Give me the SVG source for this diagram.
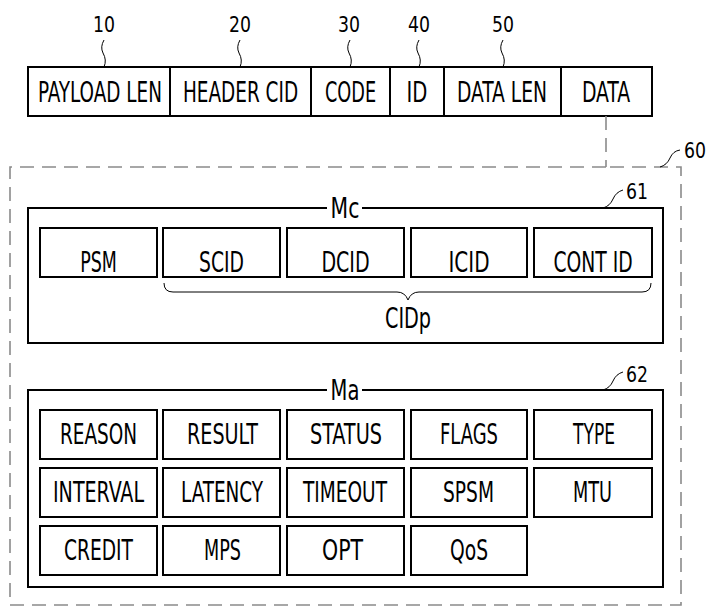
<svg xmlns="http://www.w3.org/2000/svg" width="709" height="607" viewBox="0 0 709 607">
<style>
text{font-family:"DejaVu Sans Condensed","DejaVu Sans","Liberation Sans",sans-serif;fill:#000;text-anchor:middle;}
.t{font-size:28px;}
.n{font-size:22px;}
.box{fill:#fff;stroke:#000;stroke-width:2;}
.frame{fill:none;stroke:#000;stroke-width:2;}
.dash{fill:none;stroke:#8a8a8a;stroke-width:1.6;stroke-dasharray:14 8;}
.lead{fill:none;stroke:#000;stroke-width:1;}
</style>
<rect width="709" height="607" fill="#fff"/>

<g id="packet">
  <g id="f10"><rect class="box" x="28" y="67" width="142" height="49"/><text class="t" transform="translate(100,102) scale(.72,1)" textLength="172" lengthAdjust="spacingAndGlyphs">PAYLOAD LEN</text></g>
  <g id="f20"><rect class="box" x="170" y="67" width="141" height="49"/><text class="t" transform="translate(240.5,102) scale(.72,1)" textLength="160" lengthAdjust="spacingAndGlyphs">HEADER CID</text></g>
  <g id="f30"><rect class="box" x="311" y="67" width="79" height="49"/><text class="t" transform="translate(350.5,102) scale(.72,1)" textLength="71" lengthAdjust="spacingAndGlyphs">CODE</text></g>
  <g id="f40"><rect class="box" x="390" y="67" width="54" height="49"/><text class="t" transform="translate(417,102) scale(.72,1)" textLength="29" lengthAdjust="spacingAndGlyphs">ID</text></g>
  <g id="f50"><rect class="box" x="444" y="67" width="117" height="49"/><text class="t" transform="translate(502,102) scale(.72,1)" textLength="125" lengthAdjust="spacingAndGlyphs">DATA LEN</text></g>
  <g id="fdata"><rect class="box" x="561" y="67" width="91" height="49"/><text class="t" transform="translate(606,102) scale(.72,1)" textLength="67" lengthAdjust="spacingAndGlyphs">DATA</text></g>
</g>

<g id="refs">
  <text class="n" x="104" y="32" textLength="22" lengthAdjust="spacingAndGlyphs">10</text>
  <text class="n" x="240" y="32" textLength="22" lengthAdjust="spacingAndGlyphs">20</text>
  <text class="n" x="349" y="32" textLength="22" lengthAdjust="spacingAndGlyphs">30</text>
  <text class="n" x="419" y="32" textLength="22" lengthAdjust="spacingAndGlyphs">40</text>
  <text class="n" x="503" y="32" textLength="22" lengthAdjust="spacingAndGlyphs">50</text>
  <text class="n" x="695" y="158" textLength="22" lengthAdjust="spacingAndGlyphs">60</text>
  <text class="n" x="637" y="199" textLength="22" lengthAdjust="spacingAndGlyphs">61</text>
  <text class="n" x="637" y="382" textLength="22" lengthAdjust="spacingAndGlyphs">62</text>
</g>

<g id="n60">
  <path class="dash" d="M606,167 H10 V605 H681 V167 H606"/>
</g>

<g id="n61">
  <path class="frame" d="M327,208 H28 V343 H663 V208 H362"/>
  <text class="t" transform="translate(345,218) scale(.72,1)" textLength="40" lengthAdjust="spacingAndGlyphs">Mc</text>
  <g id="psm"><rect class="box" x="40" y="228" width="117" height="49"/><text class="t" transform="translate(98.5,272) scale(.72,1)" textLength="51" lengthAdjust="spacingAndGlyphs">PSM</text></g>
  <g id="scid"><rect class="box" x="163" y="228" width="117" height="49"/><text class="t" transform="translate(221.5,272) scale(.72,1)" textLength="62.5" lengthAdjust="spacingAndGlyphs">SCID</text></g>
  <g id="dcid"><rect class="box" x="287" y="228" width="117" height="49"/><text class="t" transform="translate(345.5,272) scale(.72,1)" textLength="67" lengthAdjust="spacingAndGlyphs">DCID</text></g>
  <g id="icid"><rect class="box" x="411" y="228" width="116" height="49"/><text class="t" transform="translate(469,272) scale(.72,1)" textLength="57" lengthAdjust="spacingAndGlyphs">ICID</text></g>
  <g id="contid"><rect class="box" x="534" y="228" width="118" height="49"/><text class="t" transform="translate(593,272) scale(.72,1)" textLength="110" lengthAdjust="spacingAndGlyphs">CONT ID</text></g>
  <g id="cidp">
    <path class="lead" d="M164,283 Q164,292 173,292 H397 Q405,292 408,300 Q411,292 419,292 H642 Q651,292 651,283"/>
    <text class="t" transform="translate(408,328) scale(.72,1)" textLength="64" lengthAdjust="spacingAndGlyphs">CIDp</text>
  </g>
</g>

<g id="n62">
  <path class="frame" d="M327,390 H28 V587 H663 V390 H362"/>
  <text class="t" transform="translate(345,400) scale(.72,1)" textLength="40" lengthAdjust="spacingAndGlyphs">Ma</text>
  <g id="reason"><rect class="box" x="40" y="410" width="117" height="49"/><text class="t" transform="translate(98.5,444) scale(.72,1)" textLength="107" lengthAdjust="spacingAndGlyphs">REASON</text></g>
  <g id="result"><rect class="box" x="163" y="410" width="117" height="49"/><text class="t" transform="translate(222.5,444) scale(.72,1)" textLength="98.6" lengthAdjust="spacingAndGlyphs">RESULT</text></g>
  <g id="status"><rect class="box" x="287" y="410" width="117" height="49"/><text class="t" transform="translate(346,444) scale(.72,1)" textLength="100" lengthAdjust="spacingAndGlyphs">STATUS</text></g>
  <g id="flags"><rect class="box" x="411" y="410" width="116" height="49"/><text class="t" transform="translate(469,444) scale(.72,1)" textLength="80.6" lengthAdjust="spacingAndGlyphs">FLAGS</text></g>
  <g id="type"><rect class="box" x="534" y="410" width="118" height="49"/><text class="t" transform="translate(594,444) scale(.72,1)" textLength="58.3" lengthAdjust="spacingAndGlyphs">TYPE</text></g>
  <g id="interval"><rect class="box" x="40" y="468" width="117" height="49"/><text class="t" transform="translate(98.5,502) scale(.72,1)" textLength="126.4" lengthAdjust="spacingAndGlyphs">INTERVAL</text></g>
  <g id="latency"><rect class="box" x="163" y="468" width="117" height="49"/><text class="t" transform="translate(222,502) scale(.72,1)" textLength="113.9" lengthAdjust="spacingAndGlyphs">LATENCY</text></g>
  <g id="timeout"><rect class="box" x="287" y="468" width="117" height="49"/><text class="t" transform="translate(345,502) scale(.72,1)" textLength="116.7" lengthAdjust="spacingAndGlyphs">TIMEOUT</text></g>
  <g id="spsm"><rect class="box" x="411" y="468" width="116" height="49"/><text class="t" transform="translate(468.5,502) scale(.72,1)" textLength="70.8" lengthAdjust="spacingAndGlyphs">SPSM</text></g>
  <g id="mtu"><rect class="box" x="534" y="468" width="118" height="49"/><text class="t" transform="translate(592.5,502) scale(.72,1)" textLength="54.2" lengthAdjust="spacingAndGlyphs">MTU</text></g>
  <g id="credit"><rect class="box" x="40" y="526" width="117" height="49"/><text class="t" transform="translate(98.5,560) scale(.72,1)" textLength="95.8" lengthAdjust="spacingAndGlyphs">CREDIT</text></g>
  <g id="mps"><rect class="box" x="163" y="526" width="117" height="49"/><text class="t" transform="translate(222.5,560) scale(.72,1)" textLength="51.4" lengthAdjust="spacingAndGlyphs">MPS</text></g>
  <g id="opt"><rect class="box" x="287" y="526" width="117" height="49"/><text class="t" transform="translate(342.5,560) scale(.72,1)" textLength="56.9" lengthAdjust="spacingAndGlyphs">OPT</text></g>
  <g id="qos"><rect class="box" x="411" y="526" width="116" height="49"/><text class="t" transform="translate(469,560) scale(.72,1)" textLength="52.8" lengthAdjust="spacingAndGlyphs">QoS</text></g>
</g>

<g id="connectors">
  <path class="dash" d="M606,116 V167"/>
  <path class="lead" d="M104,40 Q100,47 103,53 Q107,60 104,67"/>
  <path class="lead" d="M240,40 Q236,47 239,53 Q243,60 240,67"/>
  <path class="lead" d="M350,40 Q346,47 349,53 Q353,60 350,67"/>
  <path class="lead" d="M419,40 Q415,47 418,53 Q422,60 419,67"/>
  <path class="lead" d="M503,40 Q499,47 502,53 Q506,60 503,67"/>
  <path class="lead" d="M660,167 Q667,165 670,158 Q673,151 680,150"/>
  <path class="lead" d="M603,208 Q610,206 613,199 Q616,192 623,190"/>
  <path class="lead" d="M603,390 Q610,388 613,381 Q616,374 623,372"/>
</g>
</svg>
